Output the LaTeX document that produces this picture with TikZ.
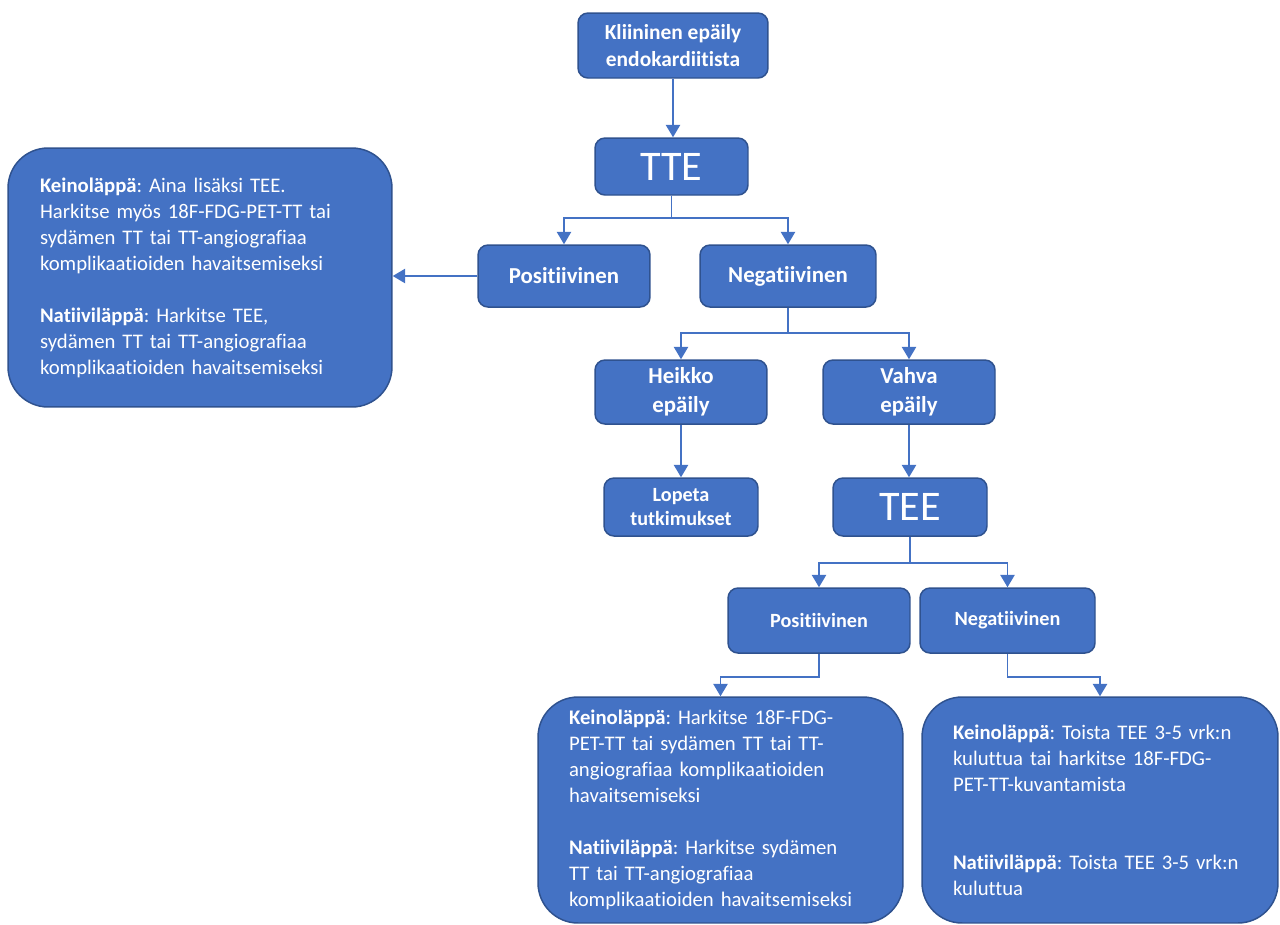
\documentclass[tikz,border=0pt]{standalone}
\usepackage{fontspec}
\setmainfont{Carlito}[Ligatures={NoCommon}]
\usetikzlibrary{arrows.meta}
\definecolor{boxblue}{HTML}{4472C4}
\definecolor{edgeblue}{HTML}{2F528F}
\frenchspacing

\begin{document}
\begin{tikzpicture}[
    x=0.02cm, y=-0.02cm,
    flowbox/.style={draw=edgeblue, line width=0.85pt, fill=boxblue, text=white, rounded corners=0.2cm, align=center, inner sep=0pt},
    answer/.style={flowbox, font=\fontsize{13}{16.5}\selectfont\bfseries},
    small/.style={flowbox, font=\fontsize{11.5}{14.2}\selectfont\bfseries},
    big/.style={flowbox, font=\fontsize{24}{28}\selectfont},
    info/.style={flowbox, rounded corners=0.8cm, align=left, font=\fontsize{11.8}{14.8}\selectfont},
    arr/.style={draw=boxblue, line width=1.1pt, -{Triangle[width=8pt,length=7pt]}}
]
    \useasboundingbox (0,0) rectangle (1280,924);

    % --- Start ---
    \node[answer, font=\fontsize{12.2}{15.4}\selectfont\bfseries, minimum width=3.8cm, minimum height=1.3cm] (epaily) at (673,45.5) {Kliininen epäily\\endokardiitista};
    \node[big, minimum width=3.06cm, minimum height=1.14cm] (tte) at (671.5,166.5) {TTE};

    % --- TTE result ---
    \node[answer, minimum width=3.44cm, minimum height=1.24cm] (pos1) at (564,276) {Positiivinen};
    \node[answer, minimum width=3.52cm, minimum height=1.24cm] (neg1) at (788,276) {Negatiivinen};
    \node[info, inner xsep=0.64cm, text width=6.4cm, minimum height=5.18cm] (hoito0) at (200,277.5) {\textbf{Keinoläppä}: Aina lisäksi TEE.\\Harkitse myös 18F-FDG-PET-TT tai\\sydämen TT tai TT-angiografiaa\\komplikaatioiden havaitsemiseksi\\[14.8pt]\textbf{Natiiviläppä}: Harkitse TEE,\\sydämen TT tai TT-angiografiaa\\komplikaatioiden havaitsemiseksi};

    % --- Suspicion ---
    \node[answer, minimum width=3.44cm, minimum height=1.28cm] (heikko) at (681,392) {Heikko\\epäily};
    \node[answer, minimum width=3.44cm, minimum height=1.28cm] (vahva) at (909,392) {Vahva\\epäily};
    \node[small, minimum width=3.08cm, minimum height=1.16cm] (lopeta) at (681,507) {Lopeta\\tutkimukset};
    \node[big, minimum width=3.08cm, minimum height=1.16cm] (tee) at (910,507) {TEE};

    % --- TEE result ---
    \node[small, minimum width=3.64cm, minimum height=1.3cm] (pos2) at (819,620.5) {Positiivinen};
    \node[small, minimum width=3.5cm, minimum height=1.3cm] (neg2) at (1007.5,620.5) {Negatiivinen};
    \node[info, inner xsep=0.62cm, text width=6.06cm, minimum height=4.52cm] (hoito1) at (720.5,810) {\textbf{Keinoläppä}: Harkitse 18F-FDG-\\PET-TT tai sydämen TT tai TT-\\angiografiaa komplikaatioiden\\havaitsemiseksi\\[14.8pt]\textbf{Natiiviläppä}: Harkitse sydämen\\TT tai TT-angiografiaa\\komplikaatioiden havaitsemiseksi};
    \node[info, inner xsep=0.62cm, text width=5.88cm, minimum height=4.52cm] (hoito2) at (1100,810) {\textbf{Keinoläppä}: Toista TEE 3-5 vrk:n\\kuluttua tai harkitse 18F-FDG-\\PET-TT-kuvantamista\\[29.6pt]\textbf{Natiiviläppä}: Toista TEE 3-5 vrk:n\\kuluttua};

    % --- Connectors ---
    \draw[arr] (epaily.south) -- (epaily.south |- tte.north);
    \draw[arr] (tte.south) -- ++(0,22) -| (pos1);
    \draw[arr] (tte.south) -- ++(0,22) -| (neg1);
    \draw[arr] (pos1.west) -- (pos1.west -| hoito0.east);
    \draw[arr] (neg1.south) -- ++(0,25) -| (heikko);
    \draw[arr] (neg1.south) -- ++(0,25) -| (vahva);
    \draw[arr] (heikko) -- (lopeta);
    \draw[arr] (vahva.south) -- (vahva.south |- tee.north);
    \draw[arr] (tee.south) -- ++(0,26) -| (pos2);
    \draw[arr] (tee.south) -- ++(0,26) -| (neg2);
    \draw[arr] (pos2.south) -- ++(0,23) -| (hoito1);
    \draw[arr] (neg2.south) -- ++(0,23) -| (hoito2);
\end{tikzpicture}
\end{document}
